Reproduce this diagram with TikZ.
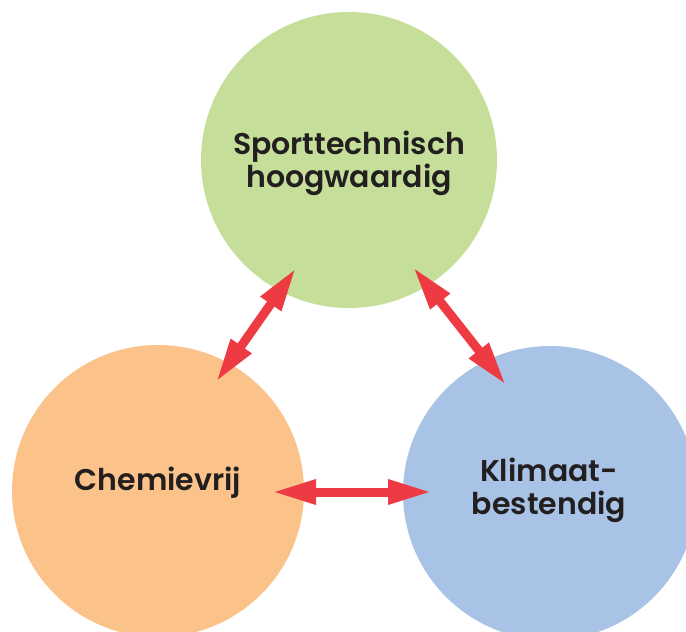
\documentclass[tikz,border=0pt]{standalone}
\usepackage{fontspec}
\setmainfont{Poppins}
\newfontfamily\labfont{Poppins SemiBold}
\usetikzlibrary{arrows.meta,calc}
\definecolor{cgreen}{HTML}{C5DF9B}
\definecolor{corange}{HTML}{FBC389}
\definecolor{cblue}{HTML}{A8C3E5}
\definecolor{cred}{HTML}{EE3A43}
\definecolor{ctext}{HTML}{231F20}
\tikzset{
  bubble/.style={circle, draw=none, inner sep=0pt},
  label/.style={text=ctext, align=center, font=\labfont\fontsize{30}{33}\selectfont, inner sep=0pt},
  dbl/.style={draw=cred, line width=9pt, {Triangle[length=44pt,width=23pt]}-{Triangle[length=44pt,width=23pt]}}
}
\begin{document}
\begin{tikzpicture}[x=1pt,y=-1pt]
\useasboundingbox (0,0) rectangle (686,632);
\clip (0,0) rectangle (686,632);
\node[bubble, fill=cgreen, minimum size=296pt] (s) at (349,160) {};
\node[bubble, fill=corange, minimum size=292pt] (c) at (158,491) {};
\node[bubble, fill=cblue, minimum size=294pt] (k) at (550,493) {};
\node[label] (st) at (349,163) {Sporttechnisch\\hoogwaardig};
\node[label] (ct) at (158,483) {Chemievrij};
\node[label] (kt) at (549,490) {Klimaat-\\bestendig};
\draw[dbl] ($(s.center)+(-53,108)$) -- ($(c.center)+(58,-109)$);
\draw[dbl] ($(s.center)+(64,107)$) -- ($(k.center)+(-44,-108)$);
\draw[dbl] ($(c.center)+(114,1)$) -- ($(k.center)+(-118,-1)$);
\end{tikzpicture}
\end{document}
